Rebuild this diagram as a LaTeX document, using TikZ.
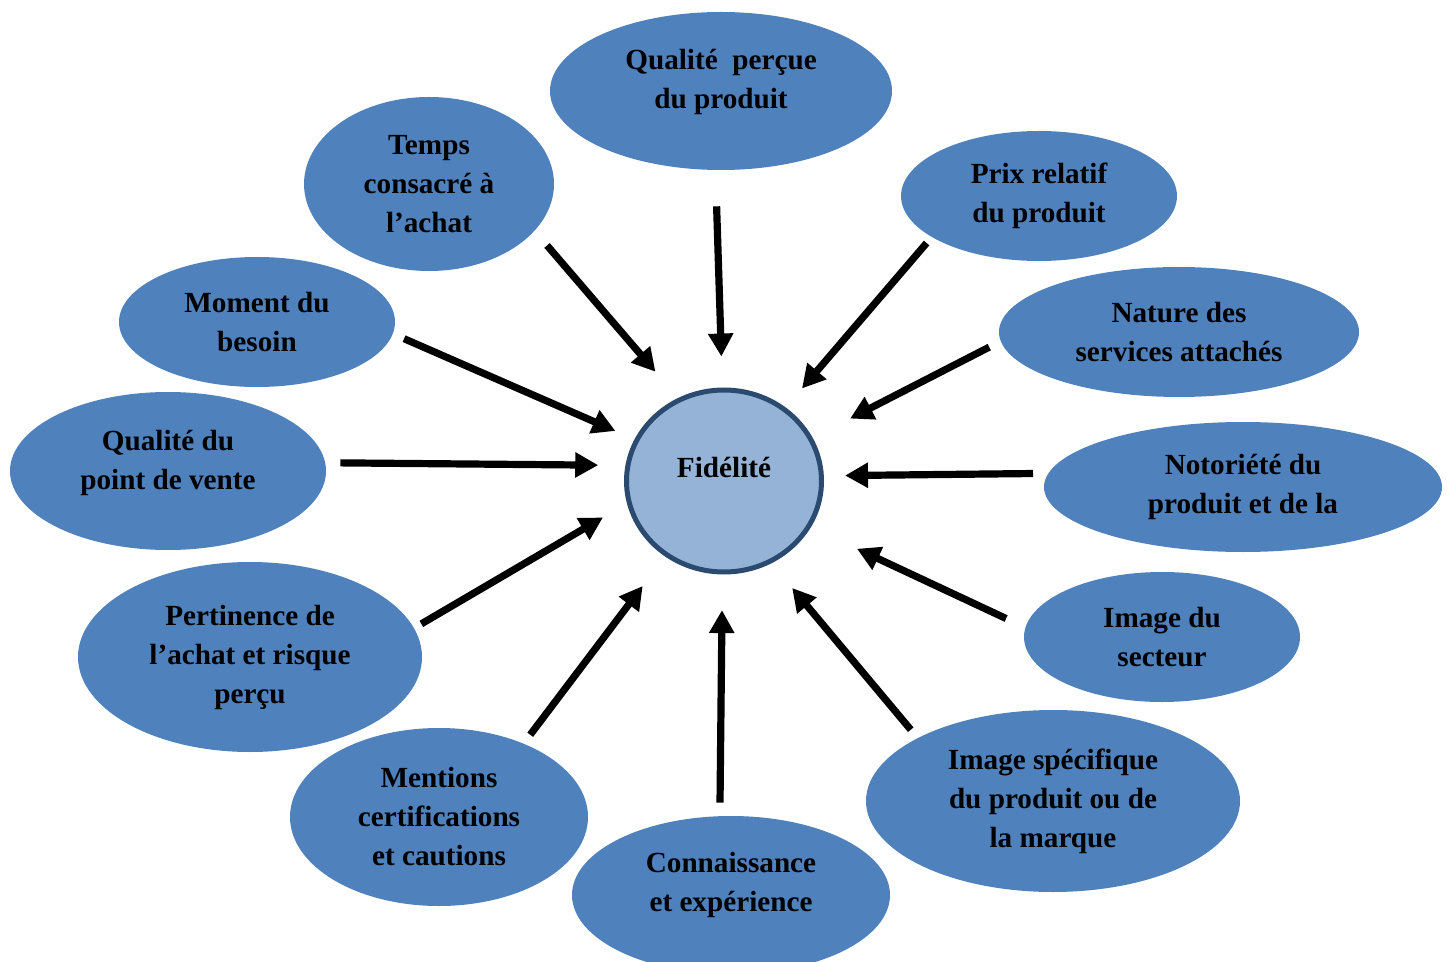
\documentclass[tikz,border=0pt]{standalone}
\usepackage{fontspec}
\setmainfont{Liberation Serif}
\usetikzlibrary{shapes.geometric, arrows.meta}

\definecolor{bleu}{HTML}{4F81BD}
\definecolor{bleuclair}{HTML}{95B3D7}
\definecolor{marine}{HTML}{2A4A70}

\begin{document}
\begin{tikzpicture}[x=0.5pt,y=-0.5pt,
  bulle/.style={ellipse, fill=bleu, inner sep=0pt, align=center,
    font=\fontsize{14.6}{19.5}\selectfont\bfseries},
  fleche/.style={line width=3.6pt, -{Triangle[length=11.5pt,width=12pt]}}]
\useasboundingbox (0,0) rectangle (1450,962);

% facteurs autour du centre
\node[bulle, minimum width=171pt, minimum height=79pt, text depth=12pt] (qualite) at (721,91) {Qualité\ \ perçue\\du produit};
\node[bulle, minimum width=125pt, minimum height=87pt] (temps) at (429,184) {Temps\\consacré à\\l’achat};
\node[bulle, minimum width=138pt, minimum height=65pt] (prix) at (1039,196) {Prix relatif\\du produit};
\node[bulle, minimum width=138pt, minimum height=65pt] (moment) at (257,322) {Moment du\\besoin};
\node[bulle, minimum width=180pt, minimum height=65pt] (nature) at (1179,332) {Nature des\\services attachés};
\node[bulle, minimum width=158pt, minimum height=79pt, text depth=11pt] (pointvente) at (168,471) {Qualité du\\point de vente};
\node[bulle, minimum width=199pt, minimum height=65pt] (notoriete) at (1243,487) {Notoriété du\\produit et de la};
\node[bulle, minimum width=172pt, minimum height=95pt] (pertinence) at (250,657) {Pertinence de\\l’achat et risque\\perçu};
\node[bulle, minimum width=138pt, minimum height=65pt] (secteur) at (1162,637) {Image du\\secteur};
\node[bulle, minimum width=149pt, minimum height=89pt] (mentions) at (439,817) {Mentions\\certifications\\et cautions};
\node[bulle, minimum width=159pt, minimum height=79pt, text depth=13pt] (connaissance) at (731,895) {Connaissance\\et expérience};
\node[bulle, minimum width=187pt, minimum height=91pt] (specifique) at (1053,801) {Image spécifique\\du produit ou de\\la marque};

% le centre
\node[ellipse, fill=bleuclair, draw=marine, line width=2.5pt, inner sep=0pt,
  minimum width=97.5pt, minimum height=91pt, text depth=14pt,
  font=\fontsize{14.6}{19.5}\selectfont\bfseries] (fid) at (724,481) {Fidélité};

% fleches vers le centre
\draw[fleche, shorten <=18pt, shorten >=15.5pt] (qualite.266.4) -- (fid.91.8);
\draw[fleche, shorten <=9.5pt, shorten >=17.3pt] (temps.-24.5) -- (fid.119.3);
\draw[fleche, shorten <=3.8pt, shorten >=12.5pt] (prix.201.3) -- (fid.50.8);
\draw[fleche, shorten <=6pt, shorten >=10.4pt] (moment.-5.5) -- (fid.155.7);
\draw[fleche, shorten <=6.3pt, shorten >=21pt] (nature.183.3) -- (fid.26.6);
\draw[fleche, shorten <=7.4pt, shorten >=13.6pt] (pointvente.3) -- (fid.171.5);
\draw[fleche, shorten <=7.5pt, shorten >=10.6pt] (notoriete.176.8) -- (fid.3.4);
\draw[fleche, shorten <=4.1pt, shorten >=13.9pt] (pertinence.10.7) -- (fid.193.5);
\draw[fleche, shorten <=10.5pt, shorten >=25.4pt] (secteur.176.6) -- (fid.-28.9);
\draw[fleche, shorten <=5.4pt, shorten >=18.5pt] (mentions.41) -- (fid.232.1);
\draw[fleche, shorten <=6.6pt, shorten >=17.8pt] (connaissance.98.8) -- (fid.269.1);
\draw[fleche, shorten <=5.3pt, shorten >=16.1pt] (specifique.155.1) -- (fid.-60.1);
\end{tikzpicture}
\end{document}
